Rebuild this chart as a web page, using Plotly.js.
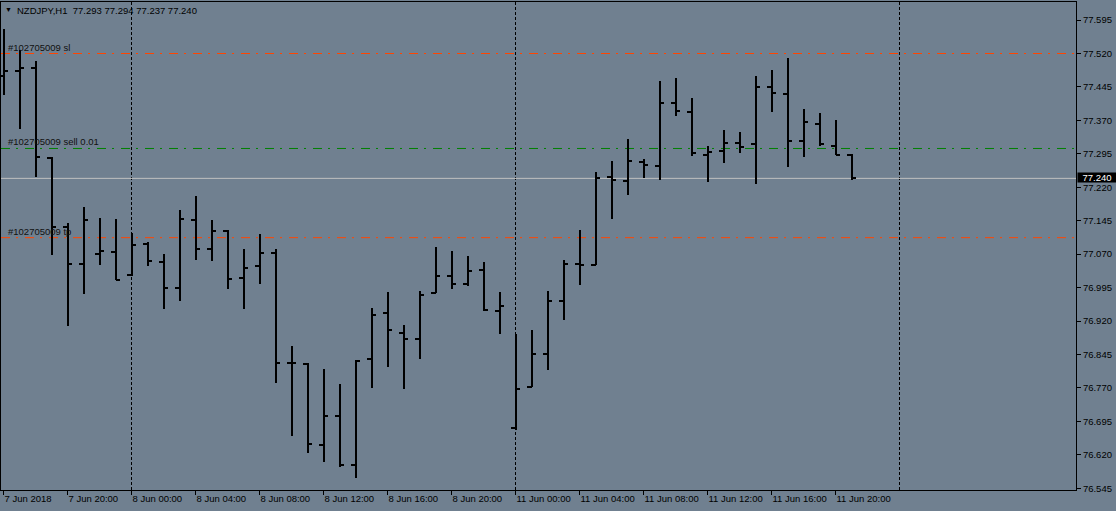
<!DOCTYPE html>
<html>
<head>
<meta charset="utf-8">
<script src="https://cdn.plot.ly/plotly-3.0.1.min.js"></script>
<style>
  html, body { margin: 0; padding: 0; background: #708090; }
  #chart { width: 1116px; height: 511px; }
  #chart .ohlc path { shape-rendering: crispEdges; }
</style>
</head>
<body>
<div id="chart"></div>
<script>
// NZDJPY H1 bars (7 Jun 2018 16:00 .. 11 Jun 2018 21:00)
const opens = [77.470,77.480,77.487,77.285,77.130,77.047,77.071,77.074,77.024,77.092,
  77.052,76.993,77.147,77.081,77.123,77.017,77.044,77.072,76.825,76.823,
  76.643,76.708,76.598,76.834,76.937,76.894,76.880,76.982,77.020,77.004,
  77.035,76.942,76.681,76.773,76.847,76.966,77.049,77.045,77.242,77.233,
  77.276,77.267,77.408,77.388,77.293,77.302,77.320,77.316,77.444,77.430,
  77.323,77.363,77.313,77.293];
const highs = [77.576,77.527,77.503,77.289,77.141,77.175,77.151,77.149,77.118,77.098,
  77.070,77.170,77.201,77.147,77.124,77.082,77.115,77.081,76.864,76.825,
  76.812,76.779,76.833,76.949,76.986,76.911,76.988,77.087,77.078,77.067,
  77.052,76.986,76.891,76.900,76.988,77.057,77.124,77.254,77.280,77.328,
  77.284,77.459,77.464,77.420,77.313,77.349,77.344,77.470,77.483,77.510,
  77.396,77.387,77.371,77.294];
const lows = [77.428,77.351,77.242,77.068,76.910,76.981,77.046,77.011,77.022,77.043,
  76.948,76.966,77.057,77.054,76.991,76.946,77.002,76.780,76.663,76.623,
  76.603,76.592,76.568,76.770,76.818,76.767,76.834,76.982,76.991,76.999,
  76.943,76.892,76.676,76.773,76.810,76.922,77.001,77.045,77.148,77.202,
  77.240,77.236,77.380,77.290,77.231,77.274,77.296,77.227,77.388,77.265,
  77.287,77.312,77.293,77.237];
const closes = [77.480,77.487,77.289,77.132,77.047,77.147,77.076,77.013,77.091,77.055,
  76.993,77.149,77.081,77.123,77.015,77.040,77.072,76.827,76.825,76.645,
  76.708,76.598,76.831,76.934,76.899,76.880,76.979,77.022,77.004,77.033,
  76.944,76.954,76.768,76.847,76.964,77.049,77.045,77.240,77.236,77.279,
  77.271,77.408,77.390,77.296,77.298,77.320,77.311,77.446,77.432,77.323,
  77.366,77.316,77.293,77.240];

// time-axis labels (bar index -> text)
const timeTickIdx = [0,4,8,12,16,20,24,28,32,36,40,44,48,52];
const timeTickText = ["7 Jun 2018","7 Jun 20:00","8 Jun 00:00","8 Jun 04:00","8 Jun 08:00",
  "8 Jun 12:00","8 Jun 16:00","8 Jun 20:00","11 Jun 00:00","11 Jun 04:00",
  "11 Jun 08:00","11 Jun 12:00","11 Jun 16:00","11 Jun 20:00"];
// day separators (bar index of midnight)
const daySeparators = [8, 32, 56];

// price scale labels
const priceTicks = [76.545,76.620,76.695,76.770,76.845,76.920,76.995,77.070,
  77.145,77.220,77.295,77.370,77.445,77.520,77.595];

// order levels
const orderLevels = [77.520, 77.307, 77.107];
const orderLabels = ["#102705009 sl", "#102705009 sell 0.01", "#102705009 tp"];
const orderColors = ["#FF4500", "#008000", "#FF4500"];
const bidPrice = 77.240;
const symbolTitle = "NZDJPY,H1\u00A0\u00A077.293 77.294 77.237 77.240";

const barIdx = opens.map((_, i) => i);
const FONT = "Liberation Sans, Arial, sans-serif";

const trace = {
  type: "ohlc",
  x: barIdx,
  open: opens, high: highs, low: lows, close: closes,
  increasing: { line: { color: "#000000", width: 2 } },
  decreasing: { line: { color: "#000000", width: 2 } },
  tickwidth: 0.3,
  showlegend: false,
  hoverinfo: "skip"
};

const shapes = [];
daySeparators.forEach(v => shapes.push({
  type: "line", xref: "x", yref: "paper", x0: v, x1: v, y0: 0, y1: 1,
  line: { color: "#000000", width: 1, dash: "3px,2px" }, layer: "below"
}));
orderLevels.forEach((v, i) => shapes.push({
  type: "line", xref: "paper", yref: "y", x0: 0, x1: 1, y0: v, y1: v,
  line: { color: orderColors[i], width: 1, dash: "9px,6px,2px,7px" }, layer: "below"
}));
shapes.push({
  type: "line", xref: "paper", yref: "y", x0: 0, x1: 1, y0: bidPrice, y1: bidPrice,
  line: { color: "#C0C0C0", width: 1 }, layer: "below"
});

const annotations = [];
annotations.push({
  xref: "paper", yref: "paper", x: 0, y: 1, xanchor: "left", yanchor: "top",
  xshift: 2, yshift: -2, showarrow: false, text: "\u25BC",
  font: { family: FONT, size: 7, color: "#000000" }
});
annotations.push({
  xref: "paper", yref: "paper", x: 0, y: 1, xanchor: "left", yanchor: "top",
  xshift: 14, yshift: -1, showarrow: false, text: symbolTitle,
  font: { family: FONT, size: 9.5, color: "#000000" }
});
orderLevels.forEach((v, i) => annotations.push({
  xref: "paper", yref: "y", x: 0, y: v, xanchor: "left", yanchor: "bottom",
  xshift: 5, yshift: -1, showarrow: false, text: orderLabels[i],
  font: { family: FONT, size: 9.5, color: "#111111" }
}));
annotations.push({
  xref: "paper", yref: "y", x: 1, y: bidPrice, xanchor: "left", yanchor: "middle",
  xshift: 1, yshift: 1, showarrow: false, text: bidPrice.toFixed(3),
  bgcolor: "#000000", borderpad: 0, width: 38, height: 9, align: "center",
  font: { family: FONT, size: 9.5, color: "#FFFFFF" }
});

const layout = {
  width: 1116, height: 511,
  margin: { l: 1, r: 40, t: 2, b: 21, pad: 0 },
  paper_bgcolor: "#708090",
  plot_bgcolor: "#708090",
  font: { family: FONT, size: 9.5, color: "#000000" },
  showlegend: false,
  dragmode: false,
  xaxis: {
    type: "linear",
    range: [-0.15625, 67.03125],
    autorange: false,
    rangeslider: { visible: false },
    showgrid: false, zeroline: false,
    showline: true, linecolor: "#000000", linewidth: 1, mirror: true,
    ticks: "outside", ticklen: 4, tickwidth: 1, tickcolor: "#000000",
    tickmode: "array", tickvals: timeTickIdx, ticktext: timeTickText,
    ticklabelposition: "outside right",
    tickfont: { family: FONT, size: 9.5, color: "#000000" }
  },
  yaxis: {
    side: "right",
    range: [76.5411, 77.6355],
    autorange: false,
    showgrid: false, zeroline: false,
    showline: true, linecolor: "#000000", linewidth: 1, mirror: true,
    ticks: "outside", ticklen: 4, tickwidth: 1, tickcolor: "#000000",
    tickmode: "array", tickvals: priceTicks, ticktext: priceTicks.map(v => v.toFixed(3)),
    tickfont: { family: FONT, size: 9.5, color: "#000000" }
  },
  shapes: shapes,
  annotations: annotations
};

Plotly.newPlot("chart", [trace], layout, { displayModeBar: false, staticPlot: true });
</script>
</body>
</html>
